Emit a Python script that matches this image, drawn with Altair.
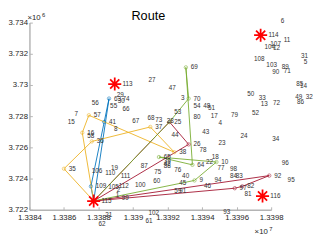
import altair as alt
import pandas as pd

# ---- customer points (id, x, y) ----
cust_id = [1, 2, 3, 4, 5, 6, 7, 8, 9, 10, 11, 12, 13, 14, 15, 16, 17, 18, 19, 21,
           22, 23, 24, 25, 26, 27, 28, 29, 30, 31, 32, 33, 34, 35, 36, 37, 38, 39, 40, 41,
           42, 43, 44, 45, 46, 47, 48, 49, 50, 51, 52, 53, 54, 55, 56, 57, 58, 59, 60, 61,
           62, 63, 64, 65, 66, 67, 68, 69, 70, 71, 72, 73, 74, 75, 76, 77, 78, 79, 80, 81,
           82, 83, 84, 85, 86, 87, 88, 89, 90, 91, 92, 93, 94, 95, 96, 97, 98, 99, 100, 102,
           103, 104, 105, 106, 107, 108, 109, 110, 111, 112]
cust_x = [13388720, 13388780, 13392500, 13394670, 13399610, 13398280, 13386330, 13388610, 13393560, 13394830,
          13398440, 13397830, 13397110, 13399390, 13385940, 13387060, 13394220, 13394280, 13388440, 13388110,
          13393940, 13394670, 13395940, 13392110, 13393220, 13390610, 13391670, 13388780, 13388830, 13399440,
          13399720, 13397000, 13397780, 13386000, 13387610, 13391000, 13392390, 13391500, 13392560, 13388330,
          13391500, 13393720, 13391940, 13392390, 13393830, 13391780, 13393780, 13399110, 13396330, 13394060,
          13396610, 13392110, 13393220, 13388390, 13387330, 13387440, 13387060, 13392110, 13390890, 13390440,
          13387720, 13388610, 13393440, 13391500, 13389110, 13389670, 13390560, 13393060, 13393220, 13398440,
          13397830, 13391000, 13389110, 13390940, 13392110, 13394610, 13393560, 13395390, 13393220, 13396170,
          13396330, 13395670, 13395330, 13399170, 13399220, 13390170, 13391500, 13398330, 13397780, 13392390,
          13397890, 13394940, 13394440, 13398670, 13398330, 13395890, 13395330, 13389060, 13389830, 13390610,
          13397440, 13397330, 13388280, 13387330, 13397670, 13396720, 13387560, 13388110, 13389000, 13388890]
cust_y = [3722940, 3723250, 3729190, 3727560, 3731500, 3734130, 3728130, 3727190, 3723880, 3725060,
          3732880, 3732380, 3728750, 3729940, 3727630, 3726940, 3728000, 3725380, 3724690, 3721690,
          3725060, 3726250, 3726750, 3727630, 3726190, 3730310, 3727690, 3729380, 3729000, 3731880,
          3729250, 3729190, 3726560, 3724630, 3726380, 3727310, 3725690, 3725130, 3724130, 3727630,
          3724940, 3727000, 3726810, 3723690, 3723500, 3729810, 3728630, 3729250, 3729440, 3728500,
          3728190, 3728250, 3728630, 3728630, 3728810, 3728060, 3726750, 3723190, 3723810, 3721250,
          3721060, 3729130, 3724880, 3725380, 3728440, 3727690, 3727880, 3731130, 3729130, 3730880,
          3728810, 3727750, 3729130, 3724440, 3724560, 3724690, 3725810, 3728060, 3727940, 3723000,
          3723500, 3724190, 3724190, 3730060, 3728880, 3724810, 3724810, 3731130, 3730810, 3723190,
          3724190, 3721880, 3723880, 3723880, 3725000, 3723380, 3724630, 3722750, 3723560, 3721810,
          3731250, 3732440, 3723440, 3724500, 3732630, 3731690, 3723500, 3724380, 3724190, 3723500]

# ---- depots ----
depot_id = [113, 114, 115, 116]
depot_x = [13388940, 13397390, 13387720, 13397500]
depot_y = [3730060, 3733190, 3722560, 3722880]

# ---- routes (sequence of point ids) ----
route_names = ["blue", "yellow", "red1", "red2", "green"]
route_colors = ["#0072BD", "#EDB120", "#A2142F", "#A2142F", "#77AC30"]
route_paths = [
    [115, 109, 41, 63, 115],
    [115, 16, 57, 38, 37, 36, 35, 115],
    [115, 25, 26, 115],
    [115, 92, 82, 97, 115],
    [115, 9, 10, 65, 64, 69, 70, 25, 115],
]

# ---- axis ticks ----
x_ticks = [13384000, 13386000, 13388000, 13390000, 13392000, 13394000, 13396000, 13398000]
y_ticks = [3722000, 3724000, 3726000, 3728000, 3730000, 3732000, 3734000]
x_domain = [13384000, 13398000]
y_domain = [3722000, 3734000]
title_text = "Route"

pts = pd.DataFrame({"id": cust_id, "x": cust_x, "y": cust_y})
pts["label"] = pts["id"].astype(str)
dep = pd.DataFrame({"id": depot_id, "x": depot_x, "y": depot_y})
dep["label"] = dep["id"].astype(str)

coord = {i: (x, y) for i, x, y in zip(cust_id, cust_x, cust_y)}
coord.update({i: (x, y) for i, x, y in zip(depot_id, depot_x, depot_y)})
rows = []
for name, path in zip(route_names, route_paths):
    for k, pid in enumerate(path):
        rows.append({"route": name, "seq": k, "x": coord[pid][0], "y": coord[pid][1]})
routes = pd.DataFrame(rows)

W, H = 248, 192
AX = "#b4b4b4"
FONT = "Liberation Sans"
xs = alt.Scale(domain=x_domain, nice=False, zero=False)
ys = alt.Scale(domain=y_domain, nice=False, zero=False)
cscale = alt.Scale(domain=route_names, range=route_colors)

x_axis_main = alt.Axis(orient="bottom", values=x_ticks, labelExpr="format(datum.value/1e7, '.5~f')",
                       ticks=False, domainColor=AX, domainWidth=1.5, labelFontSize=8, labelFont=FONT,
                       labelColor="#262626", labelPadding=4, grid=False, title=None,
                       labelFlush=False, labelOverlap=False)
y_axis_main = alt.Axis(orient="left", values=y_ticks, labelExpr="format(datum.value/1e6, '.3~f')",
                       ticks=False, domainColor=AX, domainWidth=1.5, labelFontSize=8, labelFont=FONT,
                       labelColor="#262626", labelPadding=2, grid=False, title=None,
                       labelFlush=False, labelOverlap=False)
x_axis_ticks = alt.Axis(orient="top", offset=-H, values=x_ticks, labels=False, domain=False,
                        tickSize=3, tickColor=AX, tickWidth=1, grid=False, title=None)
y_axis_ticks = alt.Axis(orient="right", offset=-W, values=y_ticks, labels=False, domain=False,
                        tickSize=3, tickColor=AX, tickWidth=1, grid=False, title=None)

lines = alt.Chart(routes).mark_line(strokeWidth=1, opacity=0.9).encode(
    x=alt.X("x:Q", scale=xs, axis=x_axis_main),
    y=alt.Y("y:Q", scale=ys, axis=y_axis_main),
    color=alt.Color("route:N", scale=cscale, legend=None),
    detail="route:N",
    order="seq:Q",
)

markers = alt.Chart(routes).mark_point(shape="circle", filled=False, size=12, strokeWidth=0.8).encode(
    x=alt.X("x:Q", scale=xs, axis=x_axis_ticks),
    y=alt.Y("y:Q", scale=ys, axis=y_axis_ticks),
    color=alt.Color("route:N", scale=cscale, legend=None),
)

labels = alt.Chart(pts).mark_text(align="left", baseline="middle", dx=5, fontSize=6.5, font=FONT,
                                  color="#333333").encode(
    x=alt.X("x:Q", scale=xs, axis=None),
    y=alt.Y("y:Q", scale=ys, axis=None),
    text="label:N",
)

STAR = "M-1,0L1,0M0,-1L0,1M-0.7,-0.7L0.7,0.7M-0.7,0.7L0.7,-0.7"
stars = alt.Chart(dep).mark_point(shape=STAR, filled=False, size=180, strokeWidth=1.8,
                                  color="#ff0000", opacity=1).encode(
    x=alt.X("x:Q", scale=xs, axis=None),
    y=alt.Y("y:Q", scale=ys, axis=None),
)
dep_labels = alt.Chart(dep).mark_text(align="left", baseline="middle", dx=8, fontSize=6.5, font=FONT,
                                      color="#333333").encode(
    x=alt.X("x:Q", scale=xs, axis=None),
    y=alt.Y("y:Q", scale=ys, axis=None),
    text="label:N",
)

title = alt.Chart(pd.DataFrame({"t": [title_text]})).mark_text(
    align="center", baseline="alphabetic", fontSize=13, font=FONT, color="black").encode(
    x=alt.value(W / 2 - 2), y=alt.value(-3), text="t:N")

ann = pd.DataFrame({"t": ["×10"]})
exp6 = alt.Chart(ann).mark_text(align="left", baseline="middle", fontSize=8, font=FONT, color="#262626").encode(
    x=alt.value(-2), y=alt.value(-5), text="t:N")
exp6b = alt.Chart(pd.DataFrame({"t": ["6"]})).mark_text(align="left", baseline="middle", fontSize=6, font=FONT,
                                                        color="#262626").encode(
    x=alt.value(13), y=alt.value(-8), text="t:N")
exp7 = alt.Chart(ann).mark_text(align="left", baseline="middle", fontSize=8, font=FONT, color="#262626").encode(
    x=alt.value(231), y=alt.value(215), text="t:N")
exp7b = alt.Chart(pd.DataFrame({"t": ["7"]})).mark_text(align="left", baseline="middle", fontSize=6, font=FONT,
                                                        color="#262626").encode(
    x=alt.value(246), y=alt.value(212), text="t:N")

chart = alt.layer(lines, markers, labels, stars, dep_labels, title, exp6, exp6b, exp7, exp7b).properties(
    width=W, height=H,
    padding={"left": 22, "top": 12, "right": 46, "bottom": 26},
    autosize=alt.AutoSizeParams(type="none"),
).configure_view(stroke=None)

chart.save("out.html", embed_options={"renderer": "svg", "actions": False})
